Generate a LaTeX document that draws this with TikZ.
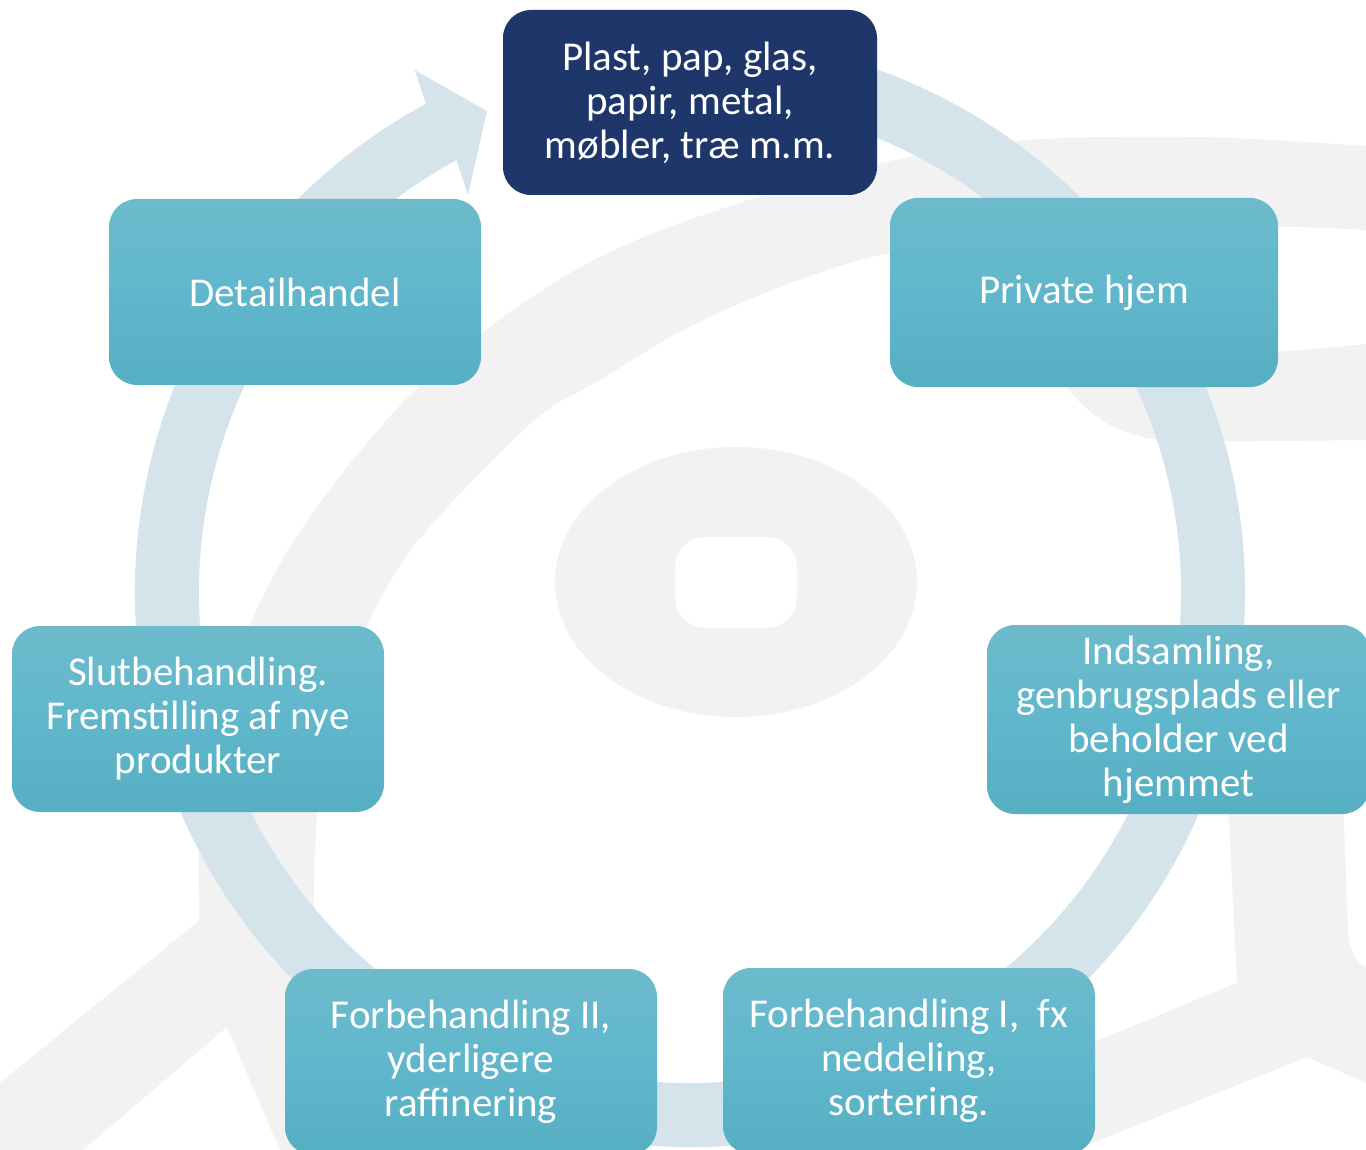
\documentclass[tikz,border=0pt]{standalone}
\usepackage{fontspec}
\setmainfont{Carlito}
\definecolor{ringc}{RGB}{212,228,234}
\definecolor{wm}{RGB}{242,242,242}
\definecolor{navy}{RGB}{30,54,106}
\definecolor{btop}{RGB}{122,190,205}
\definecolor{bmid}{RGB}{96,183,203}
\definecolor{bbot}{RGB}{77,166,187}
\pgfdeclareverticalshading{boxshade}{100bp}{color(0bp)=(bbot); color(50bp)=(bmid); color(100bp)=(btop)}
\begin{document}
\begin{tikzpicture}[x=1pt,y=-1pt,
  stage/.style={rounded corners=28pt, text=white, align=center, font=\fontsize{41}{44}\selectfont, inner sep=0pt},
  tealbox/.style={stage, shade, shading=boxshade},
  darkbox/.style={stage, fill=navy}]
\useasboundingbox (0,0) rectangle (1366,1150);
\clip (0,0) rectangle (1366,1150);
\fill[white] (0,0) rectangle (1366,1150);
% watermark
\fill[wm, even odd rule] (736,582) ellipse[x radius=181, y radius=135]
  [rounded corners=30pt] (675,537) rectangle (797,628);
\fill[wm] plot[smooth] coordinates {(200,940) (200,820) (220,700) (255,613) (290,547) (337,480) (393,413) (440,368) (510,312) (590,262) (683,222) (850,170) (1014,141) (1200,137) (1380,147)}
  -- plot[smooth] coordinates {(1380,231) (1278,227) (1080,236) (892,253) (780,287) (683,330) (600,380) (543,413) (473,480) (413,547) (373,613) (340,700) (318,800) (313,940)} -- cycle;
\fill[wm] (1380,343) -- (1278,352) -- (1060,378) .. controls (1090,420) and (1120,438) .. (1180,442) -- (1380,440) -- cycle;
\fill[wm] (200,800) -- (200,920) -- (-10,1091) -- (-10,1150) -- (83,1150) -- (227,1027) -- (280,1150) -- (300,1150) -- (300,960) -- (313,913) -- (313,800) -- cycle;
\fill[wm] (1228,800) -- (1237,983) -- (1080,1048) -- (1075,1150) -- (1307,1057) -- (1380,1089) -- (1380,972) .. controls (1355,968) and (1349,950) .. (1348,930) -- (1343,800) -- cycle;
% circular arrow
\begin{scope}[shift={(690,592)}, yscale=-1]
\fill[ringc] (118.4:555) arc[start angle=118.4, end angle=440, radius=555] -- (440:491)
  arc[start angle=440, end angle=118.4, radius=491] -- (119.2:455) -- (112.9:522) -- (117.8:590) -- cycle;
\end{scope}
% stages
\node[darkbox, minimum width=374pt, minimum height=185pt] (src) at (690,102.5) {Plast, pap, glas,\\papir, metal,\\møbler, træ m.m.};
\node[tealbox, minimum width=388pt, minimum height=189pt] (home) at (1084,292.5) {Private hjem};
\node[tealbox, minimum width=383pt, minimum height=189pt] (coll) at (1178.5,719.5) {Indsamling,\\genbrugsplads eller\\beholder ved\\hjemmet};
\node[tealbox, minimum width=372pt, minimum height=186pt] (pre1) at (909,1061) {Forbehandling I,\ \ fx\\neddeling,\\sortering.};
\node[tealbox, minimum width=372pt, minimum height=186pt] (pre2) at (471,1062) {Forbehandling II,\\yderligere\\raffinering};
\node[tealbox, minimum width=372pt, minimum height=186pt] (final) at (198,719) {Slutbehandling.\\Fremstilling af nye\\produkter};
\node[tealbox, minimum width=372pt, minimum height=186pt] (retail) at (295,292) {Detailhandel};
\end{tikzpicture}
\end{document}
